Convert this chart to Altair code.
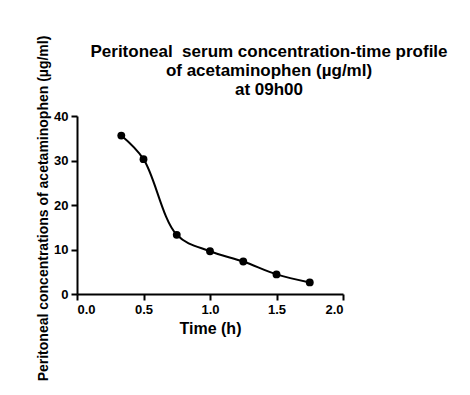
import altair as alt
import pandas as pd

time_h = [0.333, 0.5, 0.75, 1.0, 1.25, 1.5, 1.75]
conc = [35.6, 30.3, 13.3, 9.6, 7.3, 4.4, 2.6]
title_lines = ["Peritoneal\u00a0 serum concentration-time profile", "of acetaminophen (µg/ml)",
               "at 09h00\u00a0\u00a0\u00a0\u00a0\u00a0\u00a0"]

df = pd.DataFrame({"t": time_h, "c": conc})

FONT = "Liberation Sans"

x = alt.X("t:Q", scale=alt.Scale(domain=[0, 2.0], nice=False, zero=False),
          axis=alt.Axis(values=[0, 0.5, 1.0, 1.5, 2.0], format=".1f", title="Time (h)",
                        titleX=133, titleY=39, titleBaseline="alphabetic", titleFontSize=16))
y = alt.Y("c:Q", scale=alt.Scale(domain=[0, 40], nice=False),
          axis=alt.Axis(values=[0, 10, 20, 30, 40], title="Peritoneal concentrations of acetaminophen (µg/ml)",
                        titleX=-34, titleY=92, titleBaseline="middle", titleAlign="center"))

line = alt.Chart(df).mark_line(interpolate="catmull-rom", color="black", strokeWidth=2).encode(x=x, y=y)
pts = alt.Chart(df).mark_circle(color="black", size=62, opacity=1).encode(x=x, y=y)

chart = (line + pts).properties(
    width=266, height=178,
    autosize=alt.AutoSizeParams(type="none"),
    padding={"left": 69, "top": 108, "right": 119, "bottom": 93},
    title=alt.TitleParams(
        text=title_lines,
        font=FONT, fontSize=17, fontWeight="bold", color="black",
        anchor="middle", dx=59, dy=74, offset=10, lineHeight=19,
    ),
).configure_view(stroke=None).configure_axis(
    grid=False, domainColor="black", domainWidth=2, tickColor="black", tickWidth=2, tickSize=6,
    labelFont=FONT, labelFontSize=13, labelFontWeight="bold", labelColor="black", labelPadding=3,
    titleFont=FONT, titleFontSize=14, titleFontWeight="bold", titleColor="black",
)

chart.save("out.html", embed_options={"renderer": "svg", "actions": False})
